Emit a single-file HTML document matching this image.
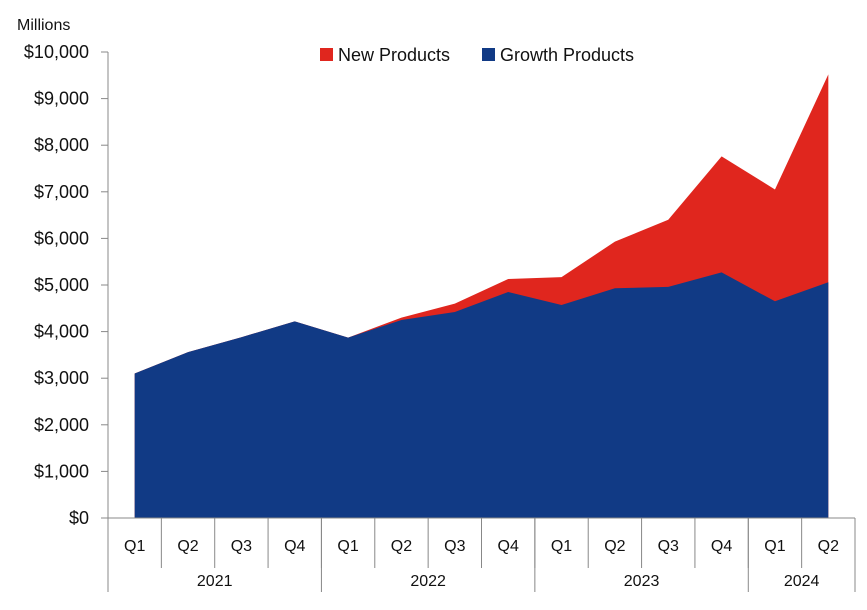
<!DOCTYPE html>
<html><head><meta charset="utf-8"><style>
body{margin:0;background:#fff;}
svg text{font-family:"Liberation Sans",sans-serif;fill:#111;}
</style></head><body>
<svg width="867" height="605" viewBox="0 0 867 605">
<g id="chart"></g>
</svg>
<script>
const quarters=["Q1","Q2","Q3","Q4","Q1","Q2","Q3","Q4","Q1","Q2","Q3","Q4","Q1","Q2"];
const years=["2021","2022","2023","2024"];
const yearCounts=[4,4,4,2];
const growthValues=[3100,3560,3880,4220,3870,4250,4420,4850,4570,4930,4960,5270,4650,5060];
const newValues=[0,0,0,0,0,50,180,280,600,1000,1440,2490,2400,4460];
const yTicks=[0,1000,2000,3000,4000,5000,6000,7000,8000,9000,10000];
const NS="http://www.w3.org/2000/svg";
const g=document.getElementById('chart');
const x0=108,x1=855,yb=518,yt=52,ymax=10000;
const bw=(x1-x0)/quarters.length;
const X=i=>x0+bw*(i+0.5);
const Y=v=>yb-(v/ymax)*(yb-yt);
function el(t,a){const e=document.createElementNS(NS,t);for(const k in a)e.setAttribute(k,a[k]);g.appendChild(e);return e;}
const tot=growthValues.map((v,i)=>v+newValues[i]);
let d="M"+X(0)+","+yb;
tot.forEach((v,i)=>d+=" L"+X(i)+","+Y(v));
d+=" L"+X(quarters.length-1)+","+yb+" Z";
const ra=el('path',{d:d,fill:'#e0261e'});


d="M"+X(0)+","+yb;
growthValues.forEach((v,i)=>d+=" L"+X(i)+","+Y(v));
d+=" L"+X(quarters.length-1)+","+yb+" Z";
const ba=el('path',{d:d,fill:'#113a85'});


const ya=el('line',{x1:x0,y1:yt,x2:x0,y2:yb,stroke:'#888','stroke-width':1});


yTicks.forEach(v=>{
 const tk=el('line',{x1:101,y1:Y(v),x2:x0,y2:Y(v),stroke:'#888','stroke-width':1});
 
 
 const t=el('text',{x:89,y:Y(v)+6,'text-anchor':'end','font-size':18});
 t.textContent="$"+v.toLocaleString('en-US');
 
 
});
const yt2=el('text',{x:17,y:30,'font-size':16});
yt2.textContent="Millions";


const xa=el('line',{x1:x0,y1:yb,x2:x1,y2:yb,stroke:'#888','stroke-width':1});


for(let i=0;i<=quarters.length;i++){
 const l=el('line',{x1:x0+bw*i,y1:yb,x2:x0+bw*i,y2:568,stroke:'#888','stroke-width':1});
 
 
}
quarters.forEach((q,i)=>{
 const t=el('text',{x:X(i),y:551,'text-anchor':'middle','font-size':16});
 t.textContent=q;
 
 
});
let s=0;
const bounds=[0];
yearCounts.forEach(c=>{s+=c;bounds.push(s);});
bounds.forEach(b=>{
 const l=el('line',{x1:x0+bw*b,y1:yb,x2:x0+bw*b,y2:592,stroke:'#888','stroke-width':1});
 
 
});
years.forEach((y,i)=>{
 const cx=x0+bw*(bounds[i]+bounds[i+1])/2;
 const t=el('text',{x:cx,y:586,'text-anchor':'middle','font-size':16});
 t.textContent=y;
 
 
});
const r1=el('rect',{x:320,y:48,width:13,height:13,fill:'#e0261e'});


const t1=el('text',{x:338,y:61,'font-size':18});
t1.textContent="New Products";


const r2=el('rect',{x:482,y:48,width:13,height:13,fill:'#113a85'});


const t2=el('text',{x:500,y:61,'font-size':18});
t2.textContent="Growth Products";


</script>
</body></html>
